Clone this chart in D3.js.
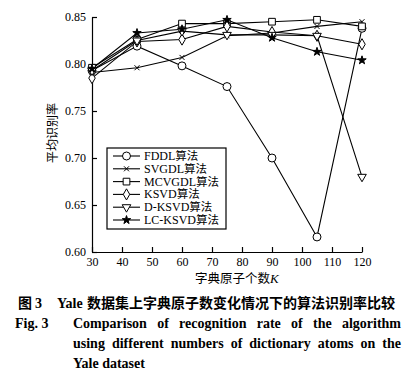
<!DOCTYPE html>
<html>
<head>
<meta charset="utf-8">
<script src="https://cdn.jsdelivr.net/npm/d3@7"></script>
<style>
body{margin:0;background:#fff;}
svg{display:block;background:#fff;}
</style>
</head>
<body>
<div id="chart"></div>
<script>
// dictionary atoms K
var atoms = [30, 45, 60, 75, 90, 105, 120];
// recognition rate per algorithm
var fddl    = [0.793, 0.819, 0.798, 0.776, 0.700, 0.616, 0.838];
var svgdl   = [0.791, 0.796, 0.807, 0.830, 0.833, 0.840, 0.845];
var mcvgdl  = [0.796, 0.826, 0.843, 0.843, 0.845, 0.847, 0.840];
var ksvd    = [0.785, 0.824, 0.826, 0.840, 0.834, 0.830, 0.821];
var dksvd   = [0.793, 0.825, 0.835, 0.831, 0.831, 0.830, 0.680];
var lcksvd  = [0.795, 0.833, 0.837, 0.847, 0.828, 0.813, 0.804];
var names   = ["FDDL算法", "SVGDL算法", "MCVGDL算法", "KSVD算法", "D-KSVD算法", "LC-KSVD算法"];
var xTicks  = [30, 40, 50, 60, 70, 80, 90, 100, 110, 120];
var yTicks  = [0.60, 0.65, 0.70, 0.75, 0.80, 0.85];

var series = [fddl, svgdl, mcvgdl, ksvd, dksvd, lcksvd];
var symX = d3.symbolTimes || d3.symbolX;
var markers = [
  {type: d3.symbolCircle, size: 50, fill: "#fff", rot: 0},
  {type: symX, size: 18, fill: "none", rot: 0},
  {type: d3.symbolSquare, size: 45, fill: "#fff", rot: 0},
  {type: d3.symbolDiamond, size: 36, fill: "#fff", rot: 0},
  {type: d3.symbolTriangle, size: 32, fill: "#fff", rot: 180},
  {type: d3.symbolStar, size: 22, fill: "#000", rot: 0}
];

var W = 414, H = 374;
var svg = d3.select("#chart").append("svg").attr("width", W).attr("height", H);

var x = d3.scaleLinear().domain([30, 120]).range([92, 362]);
var y = d3.scaleLinear().domain([0.60, 0.85]).range([252, 17]);

var tickFont = "Liberation Serif, Times New Roman, serif";
var cjk = "Noto Sans CJK SC, sans-serif";

// axes
var gx = svg.append("g").attr("transform", "translate(0,252)")
  .call(d3.axisBottom(x).tickValues(xTicks).tickSizeInner(-5).tickSizeOuter(0).tickPadding(5));
var gy = svg.append("g").attr("transform", "translate(92,0)")
  .call(d3.axisLeft(y).tickValues(yTicks).tickFormat(d3.format(".2f")).tickSizeInner(-5).tickSizeOuter(0).tickPadding(6));
[gx, gy].forEach(function(g){
  g.selectAll("path,line").attr("stroke", "#000").attr("stroke-width", 1.2);
  g.selectAll("text").attr("font-family", tickFont).attr("font-size", "12px").attr("fill", "#000");
});

// lines
var line = d3.line().x(function(d, i){ return x(atoms[i]); }).y(function(d){ return y(d); });
svg.append("g").selectAll("path").data(series).enter().append("path")
  .attr("d", line).attr("fill", "none").attr("stroke", "#000").attr("stroke-width", 1.1);

// markers
series.forEach(function(s, k){
  var m = markers[k];
  svg.append("g").selectAll("path").data(s).enter().append("path")
    .attr("d", d3.symbol().type(m.type).size(m.size))
    .attr("transform", function(d, i){ return "translate(" + x(atoms[i]) + "," + y(d) + ") rotate(" + m.rot + ")"; })
    .attr("fill", m.fill).attr("stroke", "#000").attr("stroke-width", 1);
});

// legend
var leg = svg.append("g");
leg.append("rect").attr("x", 107).attr("y", 148).attr("width", 119).attr("height", 81)
  .attr("fill", "#fff").attr("stroke", "#000").attr("stroke-width", 1.2);
names.forEach(function(n, k){
  var ly = 156 + k * 12.8;
  var m = markers[k];
  leg.append("line").attr("x1", 113).attr("x2", 140).attr("y1", ly).attr("y2", ly)
    .attr("stroke", "#000").attr("stroke-width", 1.1);
  leg.append("path").attr("d", d3.symbol().type(m.type).size(m.size))
    .attr("transform", "translate(126.5," + ly + ") rotate(" + m.rot + ")")
    .attr("fill", m.fill).attr("stroke", "#000").attr("stroke-width", 1);
  var t = leg.append("text").attr("x", 144).attr("y", ly).attr("dy", "0.34em").attr("font-size", "12px");
  var latin = n.replace("算法", "");
  t.append("tspan").attr("font-family", tickFont).text(latin);
  t.append("tspan").attr("font-family", cjk).attr("font-size", "11.5px").text("算法");
});

// axis titles
var xt = svg.append("text").attr("x", 195).attr("y", 283).attr("font-size", "12.5px").attr("font-family", cjk);
xt.append("tspan").text("字典原子个数");
xt.append("tspan").attr("font-family", tickFont).attr("font-style", "italic").attr("font-size", "13px").text("K");

svg.append("text").attr("transform", "translate(57,133) rotate(-90)")
  .attr("text-anchor", "middle").attr("font-family", cjk).attr("font-size", "12px").text("平均识别率");

// caption
var c1 = svg.append("text").attr("y", 308).attr("font-size", "14px").attr("font-weight", "bold");
c1.append("tspan").attr("x", 18).attr("font-family", cjk).text("图");
c1.append("tspan").attr("x", 35).attr("font-family", tickFont).text("3");
c1.append("tspan").attr("x", 57).attr("font-family", tickFont).text("Yale");
c1.append("tspan").attr("x", 87).attr("font-family", cjk).text("数据集上字典原子数变化情况下的算法识别率比较");

svg.append("text").attr("x", 15).attr("y", 328).attr("font-family", tickFont)
  .attr("font-size", "14px").attr("font-weight", "bold").text("Fig. 3");

// justified caption lines
function justify(str, yy, x0, x1){
  var words = str.split(" ");
  var g = svg.append("g");
  var ts = words.map(function(w){
    return g.append("text").attr("y", yy).attr("font-family", tickFont)
      .attr("font-size", "14px").attr("font-weight", "bold").text(w);
  });
  var widths = ts.map(function(t){ return t.node().getComputedTextLength(); });
  var gap = (x1 - x0 - d3.sum(widths)) / (words.length - 1);
  var cx = x0;
  ts.forEach(function(t, i){ t.attr("x", cx); cx += widths[i] + gap; });
}
justify("Comparison of recognition rate of the algorithm", 328, 73, 401);
justify("using different numbers of dictionary atoms on the", 348, 73, 401);
svg.append("text").attr("x", 73).attr("y", 368).attr("font-family", tickFont)
  .attr("font-size", "14px").attr("font-weight", "bold").text("Yale dataset");
</script>
</body>
</html>
